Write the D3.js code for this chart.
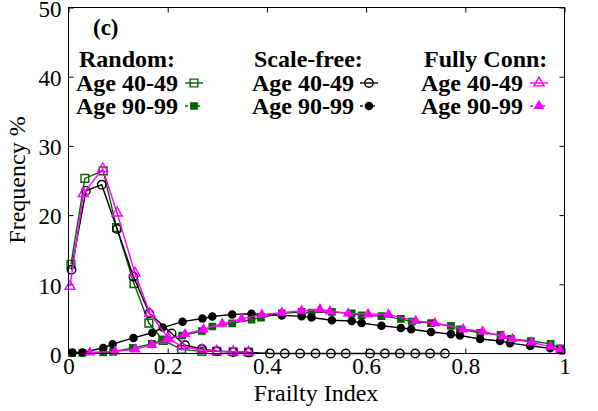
<!DOCTYPE html>
<html>
<head>
<meta charset="utf-8">
<script src="https://cdn.jsdelivr.net/npm/d3@7"></script>
<style>
  html, body { margin: 0; padding: 0; background: #fff; }
  svg { display: block; }
  text { font-family: "Liberation Serif", "Times New Roman", serif; }
</style>
</head>
<body>
<svg id="chart" width="598" height="411"></svg>
<script>
// ---- Data ----
const xTicks = [0, 0.2, 0.4, 0.6, 0.8, 1];
const yTicks = [0, 10, 20, 30, 40, 50];
const xTickLabels = ["0", "0.2", "0.4", "0.6", "0.8", "1"];
const yTickLabels = ["0", "10", "20", "30", "40", "50"];

const legendTitles = ["Random:", "Scale-free:", "Fully Conn:"];
const legendLabels = ["Age 40-49", "Age 90-99"];

// Random network, age 40-49 (open squares)
const rand40X = [0.005, 0.033, 0.070, 0.097, 0.132, 0.162, 0.191, 0.228, 0.269, 0.299, 0.332, 0.363];
const rand40Y = [12.9, 25.3, 26.4, 18.2, 10.1, 4.4, 1.9, 0.6, 0.3, 0.3, 0.25, 0.2];

// Random network, age 90-99 (filled squares)
const rand90X = [0.007, 0.028, 0.070, 0.090, 0.130, 0.168, 0.189, 0.229, 0.269, 0.290, 0.330, 0.369, 0.388, 0.430, 0.470, 0.490, 0.531, 0.571, 0.591, 0.631, 0.670, 0.692, 0.731, 0.771, 0.789, 0.830, 0.871, 0.892, 0.932, 0.972, 0.991];
const rand90Y = [0.05, 0.1, 0.15, 0.25, 0.8, 1.4, 2.0, 2.6, 3.25, 3.9, 4.35, 4.9, 5.2, 5.8, 6.0, 5.9, 6.0, 5.8, 5.5, 5.4, 5.0, 4.6, 4.4, 4.0, 3.5, 3.0, 2.7, 2.1, 1.8, 1.4, 0.75];

// Scale-free network, age 40-49 (open circles)
const sf40X = [0.006, 0.035, 0.067, 0.098, 0.131, 0.163, 0.208, 0.235, 0.269, 0.299, 0.332, 0.363, 0.406, 0.436, 0.467, 0.498, 0.529, 0.559, 0.608, 0.638, 0.668, 0.699, 0.729, 0.759];
const sf40Y = [12.1, 23.5, 24.4, 18.0, 11.1, 5.8, 2.9, 1.2, 0.65, 0.35, 0.2, 0.15, 0, 0, 0, 0, 0, 0, 0, 0, 0, 0, 0, 0];

// Scale-free network, age 90-99 (filled circles)
const sf90X = [0.008, 0.028, 0.070, 0.089, 0.131, 0.169, 0.190, 0.230, 0.270, 0.290, 0.330, 0.369, 0.430, 0.470, 0.490, 0.531, 0.571, 0.591, 0.631, 0.670, 0.691, 0.731, 0.771, 0.789, 0.830, 0.870, 0.890, 0.931, 0.971, 0.991];
const sf90Y = [0.15, 0.15, 0.8, 1.35, 2.25, 3.0, 3.75, 4.6, 5.05, 5.35, 5.65, 5.75, 5.5, 5.4, 5.2, 4.8, 4.7, 4.4, 4.0, 3.7, 3.5, 3.1, 2.8, 2.6, 2.1, 1.8, 1.5, 1.1, 0.75, 0.5];

// Fully connected network, age 40-49 (open triangles)
const fc40X = [0.003, 0.030, 0.069, 0.098, 0.134, 0.164, 0.201, 0.229, 0.269, 0.299, 0.332, 0.363];
const fc40Y = [9.7, 23.1, 26.7, 20.3, 11.6, 5.8, 2.2, 1.0, 0.5, 0.35, 0.25, 0.2];

// Fully connected network, age 90-99 (filled triangles)
const fc90X = [0.043, 0.094, 0.135, 0.168, 0.201, 0.235, 0.272, 0.310, 0.349, 0.390, 0.430, 0.470, 0.507, 0.527, 0.564, 0.604, 0.645, 0.700, 0.739, 0.796, 0.835, 0.875, 0.895, 0.934, 0.972, 0.991];
const fc90Y = [0.15, 0.3, 0.6, 1.25, 2.05, 2.8, 3.5, 4.3, 5.0, 5.6, 5.9, 6.2, 6.4, 6.1, 5.8, 5.7, 5.65, 4.7, 4.4, 3.5, 3.2, 2.5, 2.1, 1.6, 1.0, 0.6];

// ---- Layout / style ----
const GREEN = "#006400", BLACK = "#000000", MAGENTA = "#ff00ff";
const L = 68.5, R = 564.5, T = 7.5, B = 353.5;

const svg = d3.select("#chart");
const x = d3.scaleLinear().domain([0, 1]).range([L, R]);
const y = d3.scaleLinear().domain([0, 50]).range([B, T]);

const series = [
  { xs: rand40X, ys: rand40Y, color: GREEN, shape: "square", filled: false },
  { xs: rand90X, ys: rand90Y, color: GREEN, shape: "square", filled: true },
  { xs: sf40X, ys: sf40Y, color: BLACK, shape: "circle", filled: false },
  { xs: sf90X, ys: sf90Y, color: BLACK, shape: "circle", filled: true },
  { xs: fc40X, ys: fc40Y, color: MAGENTA, shape: "triangle", filled: false },
  { xs: fc90X, ys: fc90Y, color: MAGENTA, shape: "triangle", filled: true }
];

function symbolPath(shape, filled) {
  if (shape === "square") return d3.symbol(d3.symbolSquare, filled ? 40 : 60)();
  if (shape === "circle") return d3.symbol(d3.symbolCircle, filled ? 40 : 56)();
  return d3.symbol(d3.symbolTriangle, filled ? 30 : 44)();
}

// Axes (ticks pointing inward, mirrored)
const fontSize = 23;
const gx = svg.append("g").attr("transform", `translate(0,${B})`)
  .call(d3.axisBottom(x).tickValues(xTicks).tickFormat((d, i) => xTickLabels[i])
    .tickSizeInner(-5).tickSizeOuter(0).tickPadding(4));
const gxt = svg.append("g").attr("transform", `translate(0,${T})`)
  .call(d3.axisTop(x).tickValues(xTicks).tickFormat("").tickSizeInner(-5).tickSizeOuter(0));
const gy = svg.append("g").attr("transform", `translate(${L},0)`)
  .call(d3.axisLeft(y).tickValues(yTicks).tickFormat((d, i) => yTickLabels[i])
    .tickSizeInner(-5).tickSizeOuter(0).tickPadding(7));
const gyr = svg.append("g").attr("transform", `translate(${R},0)`)
  .call(d3.axisRight(y).tickValues(yTicks).tickFormat("").tickSizeInner(-5).tickSizeOuter(0));

[gx, gxt, gy, gyr].forEach(g => {
  g.select(".domain").remove();
  g.selectAll(".tick line").attr("stroke", "#000").attr("stroke-width", 1);
  g.selectAll(".tick text").attr("font-size", fontSize)
    .attr("font-family", "Liberation Serif, serif").attr("fill", "#000");
});
gy.selectAll(".tick text").attr("dy", "0.38em");

// Series
const line = d3.line().x(d => x(d[0])).y(d => y(d[1]));
series.forEach(s => {
  const pts = s.xs.map((v, i) => [v, s.ys[i]]);
  svg.append("path").datum(pts)
    .attr("d", line).attr("fill", "none")
    .attr("stroke", s.color).attr("stroke-width", 1.4);
  svg.append("g").selectAll("path").data(pts).join("path")
    .attr("transform", d => `translate(${x(d[0])},${y(d[1])})`)
    .attr("d", symbolPath(s.shape, s.filled))
    .attr("fill", s.filled ? s.color : "none")
    .attr("stroke", s.color).attr("stroke-width", 1.4);
});

// Frame
svg.append("rect").attr("x", L).attr("y", T).attr("width", R - L).attr("height", B - T)
  .attr("fill", "none").attr("stroke", "#000").attr("stroke-width", 1);

// Axis titles
svg.append("text").attr("x", 316).attr("y", 401).attr("text-anchor", "middle")
  .attr("font-size", 24).text("Frailty Index");
svg.append("text").attr("transform", "translate(25,180) rotate(-90)")
  .attr("text-anchor", "middle").attr("font-size", 24).text("Frequency %");

// Panel label
svg.append("text").attr("x", 93).attr("y", 35).attr("font-size", 23)
  .attr("font-weight", "bold").text("(c)");

// Legend
const titleX = [79, 254, 424];
const labelEndX = [178, 354, 523];
const sampleCX = [194, 369, 539];
const rowY = [91, 114];
legendTitles.forEach((t, c) => {
  svg.append("text").attr("x", titleX[c]).attr("y", 67).attr("font-size", 24)
    .attr("font-weight", "bold").text(t);
  legendLabels.forEach((lab, r) => {
    const s = series[c * 2 + r];
    svg.append("text").attr("x", labelEndX[c]).attr("y", rowY[r]).attr("text-anchor", "end")
      .attr("font-size", 24).attr("font-weight", "bold").text(lab);
    const cy = rowY[r] - 8;
    svg.append("line").attr("x1", sampleCX[c] - 9).attr("x2", sampleCX[c] + 9)
      .attr("y1", cy).attr("y2", cy).attr("stroke", s.color).attr("stroke-width", 1.4)
      .attr("stroke-dasharray", s.filled ? "3,3" : null);
    svg.append("path").attr("transform", `translate(${sampleCX[c]},${cy})`)
      .attr("d", symbolPath(s.shape, s.filled))
      .attr("fill", s.filled ? s.color : "none")
      .attr("stroke", s.color).attr("stroke-width", 1.4);
  });
});
</script>
</body>
</html>
